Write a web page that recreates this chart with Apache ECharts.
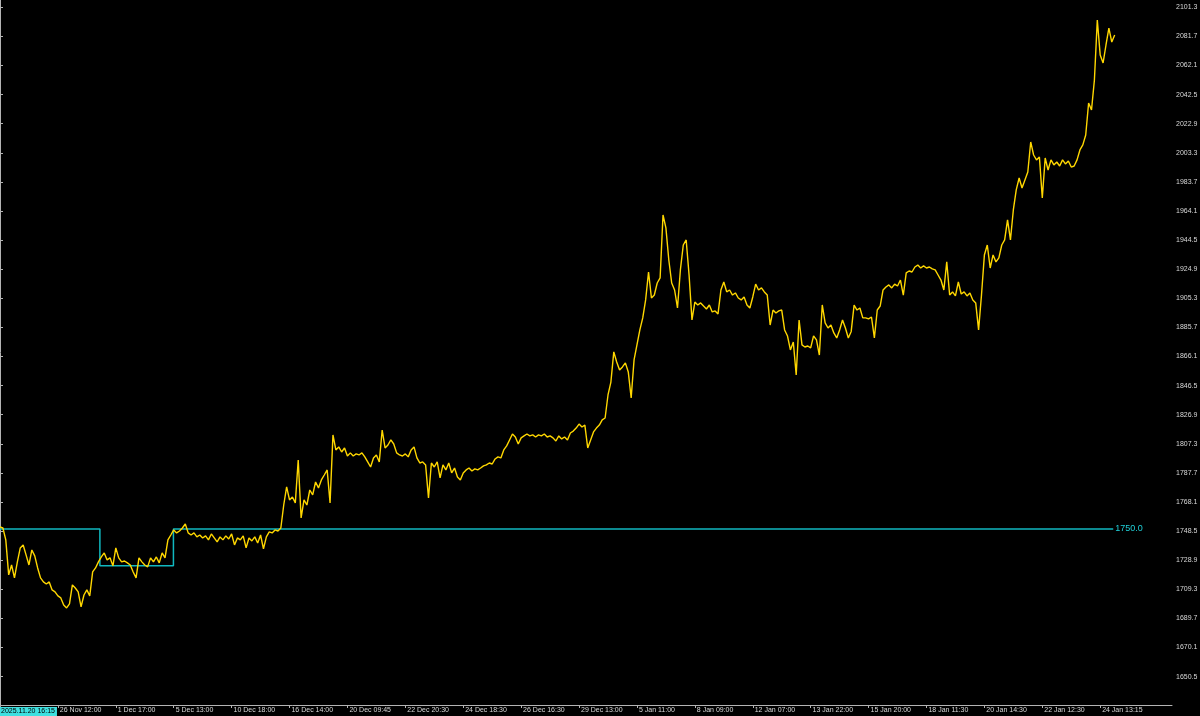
<!DOCTYPE html>
<html>
<head>
<meta charset="utf-8">
<script src="https://cdn.jsdelivr.net/npm/echarts@6/dist/echarts.min.js"></script>
<style>
html,body{margin:0;padding:0;background:#000;}
#chart{width:1200px;height:716px;}
</style>
</head>
<body>
<div id="chart"></div>
<script>
// Close prices, one per bar group (bar index = position on the x axis)
const closeValues = [
1751.3,1750.6,1742.6,1719.0,1725.7,1717.0,1727.8,1737.2,1739.2,1732.5,
1725.7,1735.8,1731.8,1723.7,1717.0,1714.3,1712.9,1714.3,1708.9,1707.6,
1704.9,1703.5,1698.8,1696.8,1699.5,1712.3,1710.2,1707.6,1697.5,1705.5,
1708.9,1704.9,1721.0,1723.7,1727.8,1731.1,1733.8,1729.1,1730.5,1725.1,
1737.2,1730.5,1727.8,1728.4,1727.1,1725.7,1721.0,1717.0,1730.5,1727.8,
1725.7,1724.4,1730.5,1727.8,1731.1,1727.1,1733.8,1730.5,1742.6,1745.9,
1749.3,1747.3,1748.6,1750.6,1753.3,1747.3,1745.9,1747.3,1744.6,1745.9,
1743.9,1745.3,1742.6,1746.6,1743.9,1741.2,1744.6,1742.6,1745.3,1743.2,
1746.6,1739.2,1743.9,1742.6,1745.3,1737.2,1743.9,1741.9,1744.6,1740.5,
1745.9,1736.5,1744.6,1748.0,1747.3,1749.3,1748.6,1750.6,1766.1,1778.3,
1769.5,1771.5,1767.5,1796.4,1757.4,1769.5,1766.1,1776.2,1772.9,1781.6,
1777.6,1783.0,1786.3,1789.7,1767.5,1813.3,1803.2,1805.2,1801.8,1804.5,
1799.1,1801.2,1799.1,1800.5,1799.8,1801.2,1798.5,1795.1,1791.7,1797.8,
1799.8,1795.1,1816.6,1804.5,1806.5,1809.9,1807.2,1801.2,1799.8,1799.1,
1800.5,1798.5,1803.2,1805.2,1797.8,1794.4,1795.1,1793.1,1770.8,1794.4,
1791.7,1795.1,1784.3,1793.1,1789.7,1794.4,1787.7,1791.0,1785.0,1783.0,
1787.7,1789.7,1791.0,1789.0,1790.4,1789.7,1791.0,1792.4,1793.1,1794.4,
1793.7,1797.1,1798.5,1797.8,1803.2,1805.9,1809.9,1813.9,1811.9,1807.2,
1811.3,1812.6,1813.9,1812.6,1813.3,1811.9,1813.3,1812.6,1813.9,1811.9,
1812.6,1811.3,1809.2,1812.6,1810.6,1811.9,1809.9,1814.6,1815.9,1817.9,
1820.6,1818.6,1819.9,1804.5,1809.9,1815.3,1817.9,1819.9,1823.4,1824.7,
1840.2,1848.9,1869.2,1862.4,1857.0,1859.1,1861.8,1855.7,1838.2,1863.8,
1873.9,1884.0,1892.1,1904.2,1923.0,1905.5,1907.5,1915.6,1919.0,1961.4,
1952.7,1931.1,1915.6,1910.9,1898.8,1924.4,1941.2,1944.6,1921.0,1890.7,
1902.8,1900.8,1902.2,1900.1,1898.1,1900.8,1896.1,1896.8,1894.8,1910.9,
1916.3,1909.6,1910.9,1907.5,1908.9,1905.5,1904.2,1906.2,1900.8,1898.8,
1906.2,1914.9,1910.9,1912.3,1909.6,1907.5,1887.3,1897.4,1895.4,1896.8,
1897.4,1884.0,1879.9,1870.5,1875.9,1853.7,1890.7,1873.9,1872.5,1873.2,
1871.9,1880.0,1877.3,1867.1,1900.8,1888.7,1885.3,1887.3,1882.0,1878.6,
1884.0,1890.7,1885.3,1878.6,1883.0,1900.8,1897.4,1898.8,1892.1,1892.1,
1891.4,1892.7,1878.6,1897.4,1900.1,1910.9,1912.9,1914.3,1912.3,1914.9,
1913.6,1917.6,1907.5,1922.4,1923.7,1923.0,1926.4,1927.7,1925.7,1927.1,
1925.7,1926.4,1925.1,1924.4,1921.0,1917.6,1910.9,1929.8,1907.5,1909.6,
1906.9,1916.3,1908.2,1909.6,1906.9,1908.9,1904.2,1902.2,1884.0,1907.5,
1934.5,1941.2,1925.7,1934.5,1929.8,1932.5,1941.2,1944.6,1958.1,1944.6,
1964.8,1978.3,1986.3,1979.6,1985.0,1990.4,2010.6,2001.8,1998.5,2000.5,
1972.9,1999.8,1991.7,1998.5,1995.1,1997.1,1994.4,1998.5,1995.8,1997.8,
1993.7,1994.4,1998.5,2005.2,2008.6,2015.3,2036.8,2032.1,2052.3,2092.7,
2069.2,2063.8,2075.9,2087.3,2077.9,2082.6
];

// Time labels shown on the x axis, one every 20 bar groups
const xTickLabels = [
"2025.11.20 16:15","26 Nov 12:00","1 Dec 17:00","5 Dec 13:00","10 Dec 18:00",
"16 Dec 14:00","20 Dec 09:45","22 Dec 20:30","24 Dec 18:30","26 Dec 16:30",
"29 Dec 13:00","5 Jan 11:00","8 Jan 09:00","12 Jan 07:00","13 Jan 22:00",
"15 Jan 20:00","18 Jan 11:30","20 Jan 14:30","22 Jan 12:30","24 Jan 13:15"
];
const xTickStep = 20;

// Price scale labels
const yTickValues = [
1650.5,1670.1,1689.7,1709.3,1728.9,1748.5,1768.1,1787.7,1807.3,1826.9,
1846.5,1866.1,1885.7,1905.3,1924.9,1944.5,1964.1,1983.7,2003.3,2022.9,
2042.5,2062.1,2081.7,2101.3
];

// Cyan level line (step)
const levelX = [0, 34.5, 34.5, 59.9, 59.9, 384.5];
const levelY = [1750, 1750, 1725.2, 1725.2, 1750, 1750];
const levelLabel = "1750.0";

const xTickPositions = xTickLabels.map((_, i) => i * xTickStep);
const lineData = closeValues.map((v, i) => [i, v]);
const levelData = levelX.map((x, i) => [x, levelY[i]]);

const chart = echarts.init(document.getElementById('chart'), null, {renderer: 'canvas'});
chart.setOption({
  backgroundColor: '#000000',
  animation: false,
  grid: {left: 0, right: 28, top: 0, bottom: 11, containLabel: false, outerBoundsMode: 'none'},
  xAxis: {
    type: 'value',
    min: 0,
    max: 404.8,
    axisLine: {show: true, lineStyle: {color: '#b4b4b4', width: 1}},
    axisTick: {show: true, length: 3, customValues: xTickPositions, lineStyle: {color: '#b4b4b4'}},
    axisLabel: {
      customValues: xTickPositions,
      align: 'left',
      margin: 2,
      fontFamily: 'Liberation Sans, Arial, sans-serif',
      fontSize: 7,
      color: '#d8d8d8',
      formatter: function (v) {
        const idx = Math.round(v / xTickStep);
        if (idx === 0) return '{first|' + xTickLabels[0] + '}';
        return ' ' + (xTickLabels[idx] || '');
      },
      rich: {
        first: {
          backgroundColor: '#3ee0e0',
          color: '#000000',
          fontSize: 7,
          fontFamily: 'Liberation Sans, Arial, sans-serif',
          padding: [1, 2, 1, 1]
        }
      }
    },
    splitLine: {show: false}
  },
  yAxis: {
    type: 'value',
    position: 'right',
    min: 1631.4,
    max: 2106.2,
    axisLine: {show: true, lineStyle: {color: '#b4b4b4', width: 1}},
    axisTick: {show: true, length: 3, customValues: yTickValues, lineStyle: {color: '#b4b4b4'}},
    axisLabel: {
      customValues: yTickValues,
      margin: 4,
      fontFamily: 'Liberation Sans, Arial, sans-serif',
      fontSize: 7,
      color: '#d8d8d8',
      formatter: function (v) { return Number(v).toFixed(1); }
    },
    splitLine: {show: false}
  },
  series: [
    {
      type: 'line',
      data: lineData,
      showSymbol: false,
      symbol: 'none',
      sampling: null,
      lineStyle: {color: '#ffd700', width: 1.4},
      itemStyle: {color: '#ffd700'},
      z: 3
    },
    {
      type: 'line',
      data: levelData,
      showSymbol: false,
      symbol: 'none',
      lineStyle: {color: '#10b8c0', width: 1.5},
      itemStyle: {color: '#10b8c0'},
      endLabel: {
        show: true,
        formatter: function () { return levelLabel; },
        color: '#20d0d8',
        fontFamily: 'Liberation Sans, Arial, sans-serif',
        fontSize: 9,
        distance: 2
      },
      z: 2
    }
  ]
});
</script>
</body>
</html>
